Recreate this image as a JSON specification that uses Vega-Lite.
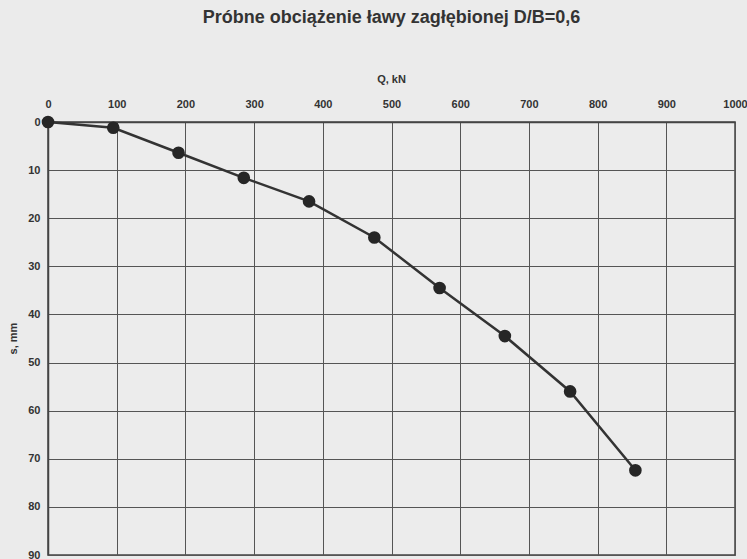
{
  "$schema": "https://vega.github.io/schema/vega-lite/v6.json",
  "width": 687,
  "height": 433,
  "autosize": {"type": "none"},
  "padding": {"left": 48, "top": 122, "right": 12, "bottom": 4},
  "background": "#ebebeb",
  "title": {
    "text": "Próbne obciążenie ławy zagłębionej D/B=0,6",
    "font": "Liberation Sans",
    "fontSize": 18,
    "fontWeight": "bold",
    "color": "#333333",
    "anchor": "middle",
    "offset": 46
  },
  "config": {
    "view": {"stroke": "#444444", "strokeWidth": 1.5, "fill": "#ececec"},
    "axis": {
      "labelFont": "Liberation Sans",
      "labelFontSize": 11,
      "labelFontWeight": "bold",
      "labelColor": "#333333",
      "titleFont": "Liberation Sans",
      "titleFontSize": 11,
      "titleFontWeight": "bold",
      "titleColor": "#333333",
      "gridColor": "#555555",
      "gridWidth": 1,
      "gridOpacity": 1,
      "domainColor": "#444444",
      "domainWidth": 1.5,
      "ticks": false,
      "tickSize": 0
    }
  },
  "data": {
    "values": [
      {"Q": 0, "s": 0},
      {"Q": 95, "s": 1.2},
      {"Q": 190, "s": 6.4},
      {"Q": 285, "s": 11.6},
      {"Q": 380, "s": 16.5},
      {"Q": 475, "s": 24.0},
      {"Q": 570, "s": 34.5},
      {"Q": 665, "s": 44.5},
      {"Q": 760, "s": 56.0},
      {"Q": 855, "s": 72.4}
    ]
  },
  "encoding": {
    "x": {
      "field": "Q",
      "type": "quantitative",
      "scale": {"domain": [0, 1000], "nice": false, "zero": false},
      "axis": {
        "orient": "top",
        "title": "Q, kN",
        "format": "d",
        "values": [0, 100, 200, 300, 400, 500, 600, 700, 800, 900, 1000],
        "labelPadding": 13,
        "labelFlush": false,
        "titleX": 343,
        "titleY": -43,
        "titleBaseline": "middle"
      }
    },
    "y": {
      "field": "s",
      "type": "quantitative",
      "scale": {"domain": [0, 90], "reverse": true, "nice": false},
      "axis": {
        "title": "s, mm",
        "format": "d",
        "values": [0, 10, 20, 30, 40, 50, 60, 70, 80, 90],
        "labelPadding": 8,
        "labelFlush": false,
        "titleX": -35,
        "titleY": 216,
        "titleBaseline": "middle",
        "titleAngle": -90
      }
    }
  },
  "layer": [
    {"mark": {"type": "line", "color": "#333333", "strokeWidth": 2.5}},
    {"mark": {"type": "point", "filled": true, "color": "#262626", "size": 160, "opacity": 1}}
  ]
}
